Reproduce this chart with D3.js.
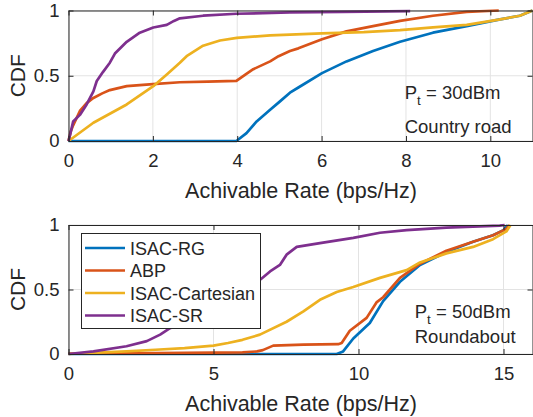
<!DOCTYPE html>
<html><head><meta charset="utf-8">
<script src="https://cdn.jsdelivr.net/npm/d3@7"></script>
<style>body{margin:0;background:#fff}svg{display:block}text{font-family:Arial,"Liberation Sans",Helvetica,sans-serif;fill:#262626}</style>
</head><body><svg id="c" width="533" height="417"></svg>
<script>
// ---------- data ----------
const seriesNames = ["ISAC-RG", "ABP", "ISAC-Cartesian", "ISAC-SR"];
const colors = ["#0072BD", "#D95319", "#EDB120", "#7E2F8E"];

// Top panel: Pt = 30dBm, Country road
const topBlueX = [0, 3.98, 4.22, 4.46, 4.78, 5.0, 5.25, 5.45, 6.01, 6.59, 7.22, 7.86, 8.64, 9.44, 10.2, 10.7, 11.0];
const topBlueY = [0, 0, 0.06, 0.15, 0.24, 0.30, 0.37, 0.41, 0.52, 0.61, 0.69, 0.76, 0.83, 0.88, 0.93, 0.96, 1.0];
const topOrangeX = [0, 0.05, 0.11, 0.27, 0.43, 0.59, 0.8, 0.98, 1.38, 2.0, 2.64, 3.3, 3.98, 4.2, 4.38, 4.78, 4.98, 5.25, 5.45, 6.01, 6.59, 7.22, 7.86, 8.64, 9.44, 10.2];
const topOrangeY = [0, 0.07, 0.12, 0.23, 0.29, 0.33, 0.365, 0.39, 0.42, 0.436, 0.45, 0.455, 0.46, 0.51, 0.55, 0.61, 0.65, 0.69, 0.71, 0.78, 0.84, 0.88, 0.92, 0.96, 0.99, 1.0];
const topYellowX = [0, 0.59, 1.38, 2.01, 2.33, 2.64, 2.8, 3.19, 3.59, 3.99, 4.78, 5.25, 6, 7, 7.86, 8.64, 9.44, 10.2, 10.7, 11.0];
const topYellowY = [0, 0.14, 0.28, 0.42, 0.51, 0.60, 0.65, 0.73, 0.77, 0.79, 0.81, 0.815, 0.825, 0.835, 0.85, 0.87, 0.89, 0.93, 0.96, 1.0];
const topPurpleX = [0, 0.04, 0.11, 0.27, 0.43, 0.59, 0.67, 0.82, 0.98, 1.1, 1.38, 1.69, 2.01, 2.33, 2.5, 2.64, 3.19, 3.98, 5.25, 6.5, 8.1];
const topPurpleY = [0, 0.05, 0.15, 0.2, 0.28, 0.38, 0.46, 0.53, 0.6, 0.67, 0.76, 0.83, 0.87, 0.89, 0.92, 0.94, 0.96, 0.975, 0.985, 0.99, 0.995];

// Bottom panel: Pt = 50dBm, Roundabout
const botBlueX = [0, 9.25, 9.47, 9.82, 10.39, 10.85, 11.43, 12.12, 13.03, 13.95, 14.64, 15.0, 15.15];
const botBlueY = [0, 0, 0.02, 0.12, 0.24, 0.41, 0.56, 0.69, 0.79, 0.87, 0.92, 0.96, 1.0];
const botOrangeX = [0, 2, 4, 6, 6.5, 6.7, 7.06, 8.1, 9.3, 9.42, 9.7, 10.28, 10.62, 10.85, 11.43, 12.12, 13.03, 13.95, 14.64, 15.1, 15.2];
const botOrangeY = [0.003, 0.005, 0.008, 0.013, 0.02, 0.03, 0.065, 0.072, 0.076, 0.085, 0.18, 0.28, 0.40, 0.44, 0.59, 0.70, 0.80, 0.87, 0.92, 0.97, 1.0];
const botYellowX = [0, 1, 2, 3, 4, 5, 5.5, 6, 6.6, 7.52, 8.1, 8.67, 9.25, 9.82, 10.74, 11.66, 12.12, 13.03, 13.95, 14.64, 15.1, 15.24];
const botYellowY = [0, 0.01, 0.02, 0.033, 0.045, 0.065, 0.085, 0.11, 0.15, 0.25, 0.33, 0.42, 0.48, 0.52, 0.59, 0.65, 0.71, 0.78, 0.83, 0.89, 0.95, 1.0];
const botPurpleX = [0, 0.86, 2.0, 2.7, 3.16, 3.5, 4.5, 5.5, 6.63, 6.95, 7.29, 7.52, 7.87, 8.67, 9.82, 10.74, 11.66, 13.03, 14.87, 15.04];
const botPurpleY = [0, 0.02, 0.06, 0.10, 0.15, 0.2, 0.3, 0.42, 0.58, 0.64, 0.69, 0.77, 0.83, 0.86, 0.90, 0.94, 0.96, 0.98, 0.995, 1.0];

const topXTicks = [0, 2, 4, 6, 8, 10];
const botXTicks = [0, 5, 10, 15];
const yTicks = [0, 0.5, 1];
const yTickLabels = ["0", "0.5", "1"];
const xLabel = "Achivable Rate (bps/Hz)";
const yLabel = "CDF";

// ---------- drawing ----------
const svg = d3.select("#c");
const axisColor = "#262626";

function panel(opt) {
  const x = d3.scaleLinear().domain(opt.xDomain).range([opt.left, opt.right]);
  const y = d3.scaleLinear().domain([0, 1]).range([opt.bottom, opt.top]);
  const g = svg.append("g");
  // grid
  g.selectAll(".gx").data(opt.xTicks).join("line")
    .attr("x1", d => x(d)).attr("x2", d => x(d)).attr("y1", opt.top).attr("y2", opt.bottom)
    .attr("stroke", "#e3e3e3").attr("stroke-width", 1);
  g.selectAll(".gy").data(yTicks).join("line")
    .attr("x1", opt.left).attr("x2", opt.right).attr("y1", d => y(d)).attr("y2", d => y(d))
    .attr("stroke", "#e3e3e3").attr("stroke-width", 1);
  // lines
  const line = d3.line().x(d => x(d[0])).y(d => y(d[1]));
  opt.series.forEach((s, i) => {
    const pts = s[0].map((v, k) => [v, s[1][k]]);
    g.append("path").datum(pts).attr("d", line).attr("fill", "none")
      .attr("stroke", colors[i]).attr("stroke-width", 2.7).attr("stroke-linejoin", "round");
  });
  // axes (inward ticks on all sides, MATLAB style)
  const tk = 5;
  const ax = d3.axisBottom(x).tickValues(opt.xTicks).tickSizeInner(-tk).tickSizeOuter(0).tickPadding(13).tickFormat(d3.format("d"));
  const gb = g.append("g").attr("transform", `translate(0,${opt.bottom})`).call(ax);
  const at = d3.axisTop(x).tickValues(opt.xTicks).tickSizeInner(-tk).tickSizeOuter(0).tickFormat("");
  const gt = g.append("g").attr("transform", `translate(0,${opt.top})`).call(at);
  const ay = d3.axisLeft(y).tickValues(yTicks).tickSizeInner(-tk).tickSizeOuter(0).tickPadding(9).tickFormat((d, i) => yTickLabels[i]);
  const gl = g.append("g").attr("transform", `translate(${opt.left},0)`).call(ay);
  const ar = d3.axisRight(y).tickValues(yTicks).tickSizeInner(-tk).tickSizeOuter(0).tickFormat("");
  const gr = g.append("g").attr("transform", `translate(${opt.right},0)`).call(ar);
  [gb, gt, gl, gr].forEach(a => {
    a.select(".domain").attr("stroke", axisColor).attr("stroke-width", 1);
    a.selectAll(".tick line").attr("stroke", axisColor).attr("stroke-width", 1);
    a.selectAll(".tick text").attr("fill", axisColor).style("font-size", "18.5px")
      .style("font-family", "Arial, 'Liberation Sans', sans-serif");
  });
  // labels
  g.append("text").attr("x", (opt.left + opt.right) / 2 + 0.5).attr("y", opt.bottom + 56.5)
    .attr("text-anchor", "middle").style("font-size", "21.5px").text(xLabel);
  g.append("text").attr("transform", `translate(${opt.left - 44},${(opt.top + opt.bottom) / 2}) rotate(-90)`)
    .attr("text-anchor", "middle").style("font-size", "21px").text(yLabel);
  // annotations
  const ann = g.append("text").attr("x", x(opt.annX)).attr("y", y(opt.annY1)).style("font-size", "18.5px");
  ann.append("tspan").text("P");
  ann.append("tspan").attr("dy", 6).style("font-size", "13.5px").text("t");
  ann.append("tspan").attr("dy", -6).text(" = " + opt.power);
  g.append("text").attr("x", x(opt.annX)).attr("y", y(opt.annY2)).style("font-size", "18.5px").text(opt.scenario);
  return {x, y, g};
}

panel({
  left: 68.5, right: 532.5, top: 10.5, bottom: 141,
  xDomain: [0, 11], xTicks: topXTicks,
  series: [[topBlueX, topBlueY], [topOrangeX, topOrangeY], [topYellowX, topYellowY], [topPurpleX, topPurpleY]],
  annX: 7.97, annY1: 0.325, annY2: 0.06, power: "30dBm", scenario: "Country road"
});

panel({
  left: 68.5, right: 532.5, top: 225, bottom: 354,
  xDomain: [0, 16], xTicks: botXTicks,
  series: [[botBlueX, botBlueY], [botOrangeX, botOrangeY], [botYellowX, botYellowY], [botPurpleX, botPurpleY]],
  annX: 11.94, annY1: 0.28, annY2: 0.085, power: "50dBm", scenario: "Roundabout"
});

// legend
const lg = svg.append("g");
const lx = 81, ly = 233, lw = 179, lh = 95;
lg.append("rect").attr("x", lx + 0.5).attr("y", ly + 0.5).attr("width", lw).attr("height", lh)
  .attr("fill", "#fff").attr("stroke", "#262626").attr("stroke-width", 1);
seriesNames.forEach((n, i) => {
  const cy = ly + 15 + i * 22.5;
  lg.append("line").attr("x1", lx + 4).attr("x2", lx + 44).attr("y1", cy).attr("y2", cy)
    .attr("stroke", colors[i]).attr("stroke-width", 2.7);
  lg.append("text").attr("x", lx + 49).attr("y", cy + 6.5).style("font-size", "18px").text(n);
});
</script></body></html>
